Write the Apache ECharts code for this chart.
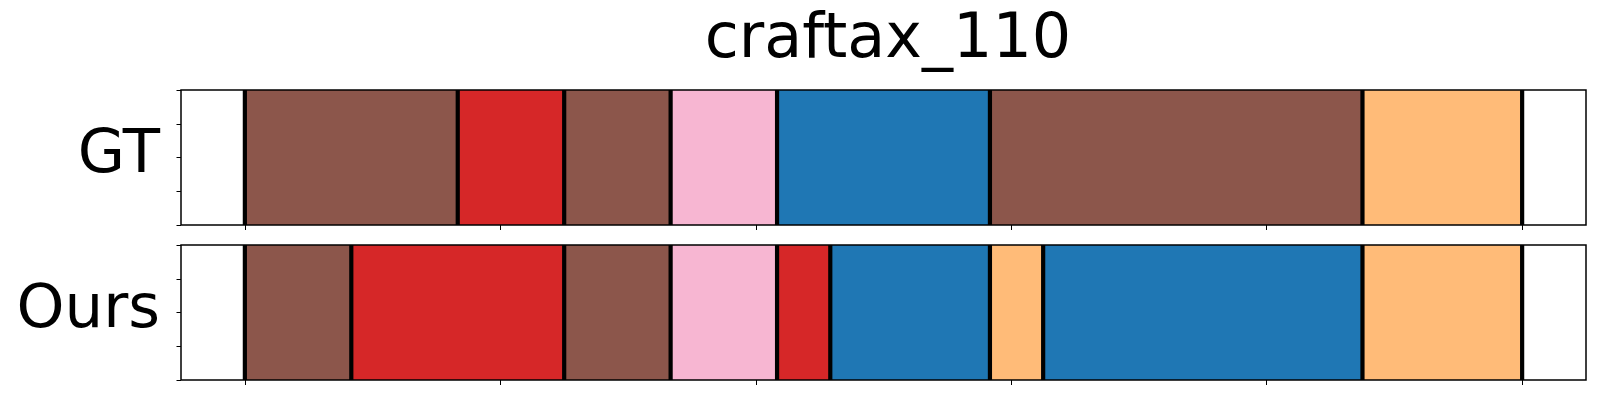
<!DOCTYPE html>
<html>
<head>
<meta charset="utf-8">
<script src="https://cdn.jsdelivr.net/npm/echarts@6/dist/echarts.min.js"></script>
<style>
html,body{margin:0;padding:0;background:#fff;}
#chart{width:1600px;height:400px;}
</style>
</head>
<body>
<div id="chart"></div>
<script>
// Segment boundaries (in steps) and action classes per row
const titleText = 'craftax_110';
const rowLabels = ['GT', 'Ours'];
const gtBounds = [0, 4, 6, 8, 10, 14, 21, 24];
const gtClasses = ['brown', 'red', 'brown', 'pink', 'blue', 'brown', 'orange'];
const oursBounds = [0, 2, 6, 8, 10, 11, 14, 15, 21, 24];
const oursClasses = ['brown', 'red', 'brown', 'pink', 'red', 'blue', 'orange', 'blue', 'orange'];
const totalLen = 24;
const xTickValues = [0, 4.8, 9.6, 14.4, 19.2, 24];

const classColors = {
  brown: '#8c564b',
  red: '#d62728',
  pink: '#f7b6d2',
  blue: '#1f77b4',
  orange: '#ffbb78'
};

function segData(bounds, classes) {
  const out = [];
  for (let i = 0; i < classes.length; i++) {
    out.push({ value: [bounds[i], bounds[i + 1], i === classes.length - 1 ? 1 : 0], itemStyle: { color: classColors[classes[i]] } });
  }
  return out;
}

function renderSeg(params, api) {
  const s = api.value(0), e = api.value(1), last = api.value(2);
  const p0 = api.coord([s, 1]);
  const p1 = api.coord([e, 0]);
  const color = api.visual('color');
  const children = [
    { type: 'rect', shape: { x: p0[0], y: p0[1], width: p1[0] - p0[0], height: p1[1] - p0[1] }, style: { fill: color } },
    { type: 'line', shape: { x1: p0[0], y1: p0[1], x2: p0[0], y2: p1[1] }, style: { stroke: '#000', lineWidth: 4.2 } }
  ];
  if (last) {
    children.push({ type: 'line', shape: { x1: p1[0], y1: p0[1], x2: p1[0], y2: p1[1] }, style: { stroke: '#000', lineWidth: 4.2 } });
  }
  return { type: 'group', children };
}

const font = 'DejaVu Sans';
const margin = totalLen * 0.05;
const grids = [
  { left: 181, right: 14, top: 90, height: 135 },
  { left: 181, right: 14, top: 245, height: 135 }
].map(g => Object.assign(g, { show: true, borderColor: '#000', borderWidth: 1.5, backgroundColor: 'transparent', z: 10 }));

function xAx(i) {
  return {
    type: 'value', gridIndex: i, min: -margin, max: totalLen + margin,
    axisLine: { show: false, onZero: false }, splitLine: { show: false },
    axisLabel: { show: false },
    axisTick: { show: true, length: 5, customValues: xTickValues, lineStyle: { color: '#000', width: 1 } }
  };
}
function yAx(i) {
  return {
    type: 'value', gridIndex: i, min: 0, max: 1, interval: 0.25,
    axisLine: { show: false, onZero: false }, splitLine: { show: false },
    axisLabel: { show: false },
    axisTick: { show: true, length: 4.5, lineStyle: { color: '#000', width: 1 } },
    name: rowLabels[i], nameLocation: 'middle', nameRotate: 0, nameGap: 21,
    nameTextStyle: { fontFamily: font, fontSize: 61, color: '#000', align: 'right', verticalAlign: 'bottom', lineHeight: 15 }
  };
}

const chart = echarts.init(document.getElementById('chart'), null, { renderer: 'svg' });
chart.setOption({
  animation: false,
  backgroundColor: '#fff',
  title: {
    text: titleText, left: 883, top: -1, textAlign: 'center',
    textStyle: { fontFamily: font, fontSize: 62, fontWeight: 'normal', color: '#000' }
  },
  grid: grids,
  xAxis: [xAx(0), xAx(1)],
  yAxis: [yAx(0), yAx(1)],
  series: [
    { type: 'custom', xAxisIndex: 0, yAxisIndex: 0, renderItem: renderSeg, data: segData(gtBounds, gtClasses), encode: { x: [0, 1], y: 2 } },
    { type: 'custom', xAxisIndex: 1, yAxisIndex: 1, renderItem: renderSeg, data: segData(oursBounds, oursClasses), encode: { x: [0, 1], y: 2 } }
  ]
});
</script>
</body>
</html>
